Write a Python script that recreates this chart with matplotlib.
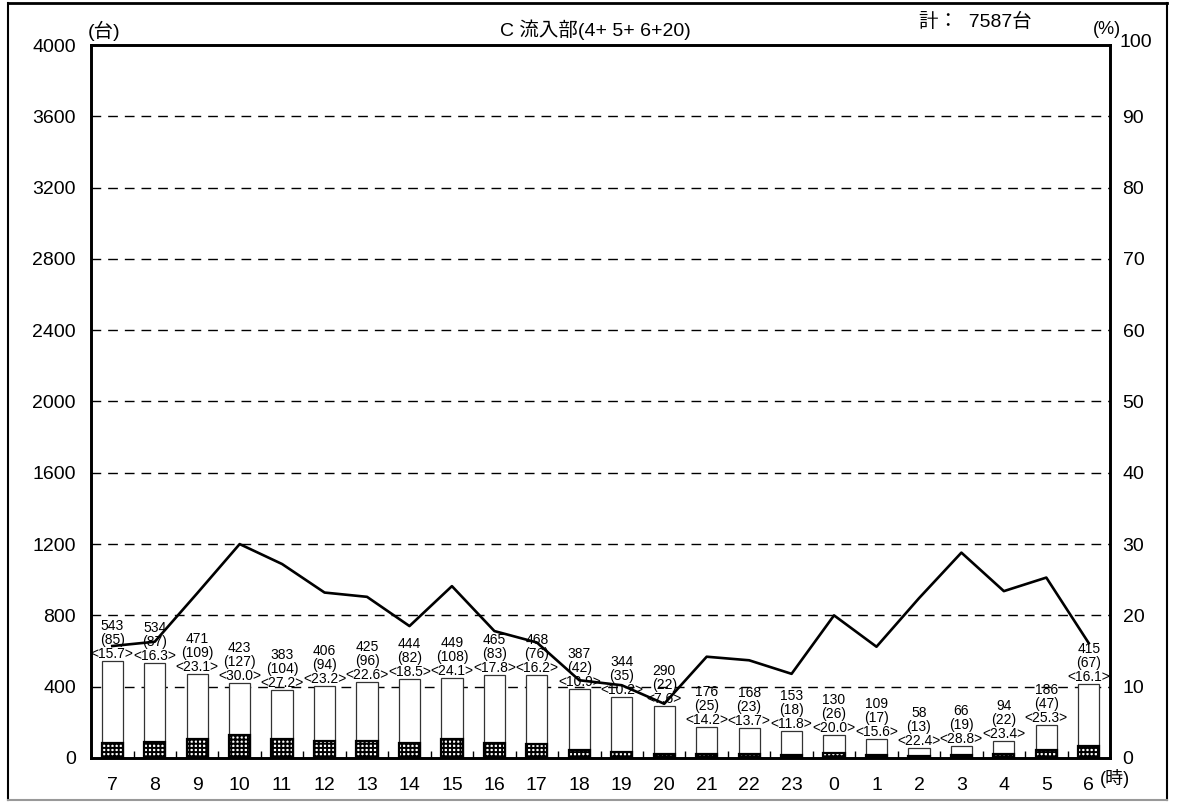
import matplotlib
matplotlib.use("Agg")
import matplotlib.pyplot as plt
from matplotlib.lines import Line2D
import numpy as np

plt.rcParams["font.family"] = ["Liberation Sans", "Noto Sans CJK JP", "DejaVu Sans"]
plt.rcParams["hatch.linewidth"] = 1.4

hours = ["7", "8", "9", "10", "11", "12", "13", "14", "15", "16", "17", "18",
         "19", "20", "21", "22", "23", "0", "1", "2", "3", "4", "5", "6"]
totals = [543, 534, 471, 423, 383, 406, 425, 444, 449, 465, 468, 387,
          344, 290, 176, 168, 153, 130, 109, 58, 66, 94, 186, 415]
large = [85, 87, 109, 127, 104, 94, 96, 82, 108, 83, 76, 42,
         35, 22, 25, 23, 18, 26, 17, 13, 19, 22, 47, 67]
ratio = [15.7, 16.3, 23.1, 30.0, 27.2, 23.2, 22.6, 18.5, 24.1, 17.8, 16.2, 10.9,
         10.2, 7.6, 14.2, 13.7, 11.8, 20.0, 15.6, 22.4, 28.8, 23.4, 25.3, 16.1]
total_all = 7587

x = np.arange(len(hours))

fig = plt.figure(figsize=(11.84, 8.11), dpi=100)
ax = fig.add_axes([0.0769, 0.0654, 0.8606, 0.8791])

# grid lines
for y in range(400, 4000, 400):
    ax.axhline(y, color="black", lw=1.0, dashes=(7, 5), zorder=0)

ax.bar(x, totals, width=0.5, facecolor="white", edgecolor="#333333", lw=0.9, zorder=2)
ax.bar(x, large, width=0.5, facecolor="white", edgecolor="black", lw=1.6,
       hatch="++++", zorder=3)

for xi, t, l, r in zip(x, totals, large, ratio):
    ax.annotate(f"{t}\n({l})\n<{r:.1f}>", (xi, t), xytext=(0, 0),
                textcoords="offset points", ha="center", va="bottom",
                fontsize=10, linespacing=1.0, zorder=5)

ax.set_xlim(-0.5, len(hours) - 0.5)
ax.set_ylim(0, 4000)
ax.set_yticks(range(0, 4001, 400))
ax.set_xticks(x)
ax.set_xticklabels(hours)
ax.tick_params(axis="x", length=0, labelsize=14, pad=14)
ax.tick_params(axis="y", length=0, labelsize=14, pad=11)
ax.set_xticks(np.arange(-0.5, len(hours)), minor=True)
ax.tick_params(axis="x", which="minor", direction="in", length=5, width=1)
for s in ax.spines.values():
    s.set_linewidth(1.9)

ax2 = ax.twinx()
ax2.plot(x, ratio, color="black", lw=1.9, zorder=4)
ax2.set_ylim(0, 100)
ax2.set_yticks(range(0, 91, 10))
ax2.tick_params(axis="y", length=0, labelsize=14, pad=9)
for s in ax2.spines.values():
    s.set_linewidth(1.9)

fig.text(0.0743, 0.962, "(台)", fontsize=14, ha="left", va="center")
fig.text(0.5025, 0.963, "C 流入部(4+ 5+ 6+20)", fontsize=14, ha="center", va="center")
fig.text(0.8235, 0.973, "計：  7587台", fontsize=14, ha="center", va="center")
fig.text(0.935, 0.964, "(%)", fontsize=13, ha="center", va="center")
fig.text(0.9595, 0.947, "100", fontsize=14, ha="center", va="center")
fig.text(0.929, 0.0395, "(時)", fontsize=13, ha="left", va="center")

# outer frame
fig.add_artist(Line2D([0.0065, 0.986], [0.996, 0.996], color="black", lw=2))
fig.add_artist(Line2D([0.0065, 0.0065], [0.013, 0.996], color="black", lw=1.5))
fig.add_artist(Line2D([0.986, 0.986], [0.013, 0.996], color="black", lw=1.5))
fig.add_artist(Line2D([0.0065, 0.986], [0.013, 0.013], color="#999999", lw=1.5))

fig.savefig("out.png", dpi=100)
